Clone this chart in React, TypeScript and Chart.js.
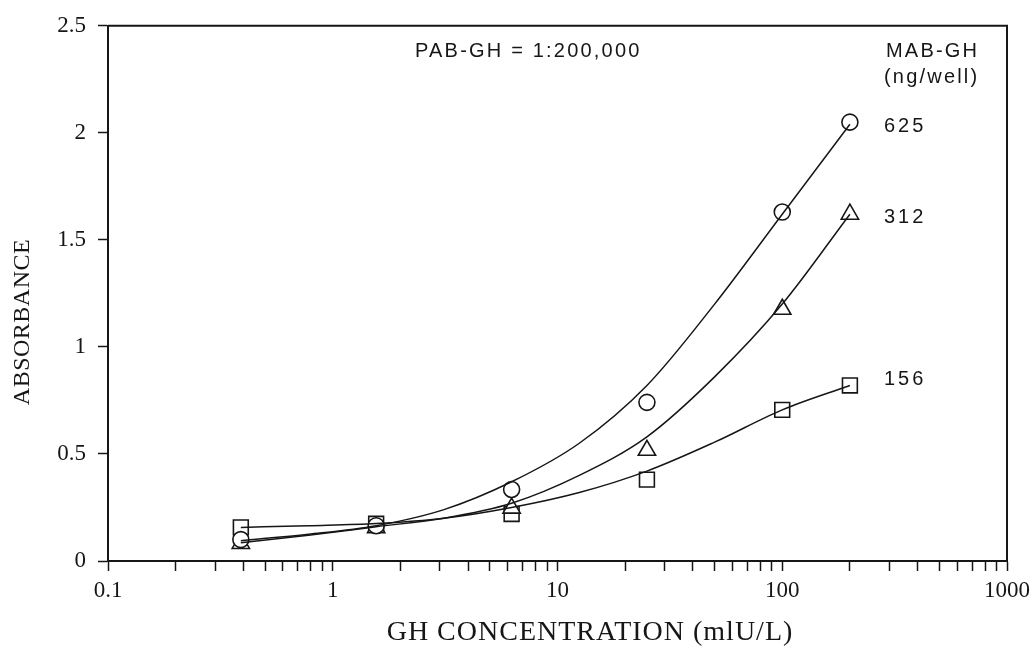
import React, { useEffect, useRef } from "react";
import { Chart, registerables } from "chart.js";

Chart.register(...registerables);

// GH concentration (mIU/L) of the measured standards
const concentrations = [0.39, 1.56, 6.25, 25, 100, 200];
// measured absorbances per MAB-GH amount (ng/well)
const abs625 = [0.1, 0.165, 0.334, 0.741, 1.63, 2.05];
const abs312 = [0.082, 0.155, 0.247, 0.517, 1.176, 1.62];
const abs156 = [0.157, 0.174, 0.22, 0.38, 0.706, 0.82];

// fitted curves at the two-fold dilution steps
const curveX = [0.39, 0.78, 1.56, 3.125, 6.25, 12.5, 25, 50, 100, 200];
const curve625 = [0.095, 0.125, 0.165, 0.24, 0.37, 0.55, 0.82, 1.2, 1.62, 2.04];
const curve312 = [0.085, 0.12, 0.16, 0.2, 0.27, 0.4, 0.58, 0.86, 1.2, 1.62];
const curve156 = [0.157, 0.165, 0.175, 0.2, 0.25, 0.32, 0.42, 0.555, 0.706, 0.82];

const seriesLabels = ["625", "312", "156"];
const xDecades = [0.1, 1, 10, 100, 1000];
const xMinorSteps = [2, 3, 4, 5, 6, 7, 8, 9];
const yTicks = [0, 0.5, 1, 1.5, 2, 2.5];

const annotationTitle = "PAB-GH = 1:200,000";
const legendTitle = "MAB-GH";
const legendUnit = "(ng/well)";
const xTitle = "GH CONCENTRATION (mlU/L)";
const yTitle = "ABSORBANCE";

const INK = "#161616";

function pts(xs: number[], ys: number[]) {
  return xs.map((x, i) => ({ x, y: ys[i] }));
}

export default function App() {
  const ref = useRef<HTMLCanvasElement | null>(null);

  useEffect(() => {
    document.body.style.margin = "0";
    const canvas = ref.current;
    if (!canvas) return;

    const xTickValues: number[] = [];
    xDecades.forEach((d, i) => {
      xTickValues.push(d);
      if (i < xDecades.length - 1) xMinorSteps.forEach((m) => xTickValues.push(d * m));
    });

    const framePlugin = {
      id: "frameAndText",
      afterDraw(chart: any) {
        const { ctx, chartArea } = chart;
        const xs = chart.scales.x;
        const ys = chart.scales.y;
        ctx.save();
        // frame top & right
        ctx.strokeStyle = INK;
        ctx.lineWidth = 2;
        ctx.beginPath();
        ctx.moveTo(chartArea.left, chartArea.top);
        ctx.lineTo(chartArea.right, chartArea.top);
        ctx.lineTo(chartArea.right, chartArea.bottom);
        ctx.stroke();

        ctx.fillStyle = INK;
        // sans annotations
        ctx.font = '20px "Liberation Sans", Arial, sans-serif';
        (ctx as any).letterSpacing = "2.2px";
        ctx.textAlign = "left";
        ctx.textBaseline = "middle";
        ctx.fillText(annotationTitle, 415, 51);
        ctx.fillText(legendTitle, 886, 51);
        ctx.fillText(legendUnit, 884, 77);
        const lastX = xs.getPixelForValue(concentrations[concentrations.length - 1]);
        const lastVals = [abs625, abs312, abs156].map((a) => a[a.length - 1]);
        const yOff = [4, 3, -6];
        (ctx as any).letterSpacing = "3px";
        seriesLabels.forEach((lab, i) => {
          ctx.fillText(lab, lastX + 34, ys.getPixelForValue(lastVals[i]) + yOff[i]);
        });

        // axis titles (serif)
        (ctx as any).letterSpacing = "1px";
        ctx.font = '28px "Liberation Serif", "Times New Roman", serif';
        ctx.textAlign = "center";
        ctx.textBaseline = "alphabetic";
        ctx.fillText(xTitle, 590, 640);

        (ctx as any).letterSpacing = "0.5px";
        ctx.font = '24px "Liberation Serif", "Times New Roman", serif';
        ctx.translate(23, 322);
        ctx.rotate(-Math.PI / 2);
        ctx.textBaseline = "middle";
        ctx.fillText(yTitle, 0, 0);
        ctx.restore();
      },
    };

    const curveStyle = {
      type: "line" as const,
      borderColor: INK,
      borderWidth: 1.5,
      pointRadius: 0,
      fill: false,
      cubicInterpolationMode: "monotone" as const,
    };
    const pointStyleBase = {
      type: "line" as const,
      showLine: false,
      borderColor: INK,
      backgroundColor: "#ffffff",
      pointBorderColor: INK,
      pointBackgroundColor: "#ffffff",
      pointBorderWidth: 1.6,
    };

    const chart = new Chart(canvas, {
      type: "line",
      data: {
        datasets: [
          { ...curveStyle, label: "fit 625", data: pts(curveX, curve625) },
          { ...curveStyle, label: "fit 312", data: pts(curveX, curve312) },
          { ...curveStyle, label: "fit 156", data: pts(curveX, curve156) },
          { ...pointStyleBase, label: seriesLabels[0], data: pts(concentrations, abs625), pointStyle: "circle", pointRadius: 8 },
          { ...pointStyleBase, label: seriesLabels[1], data: pts(concentrations, abs312), pointStyle: "triangle", pointRadius: 10 },
          { ...pointStyleBase, label: seriesLabels[2], data: pts(concentrations, abs156), pointStyle: "rect", pointRadius: 10.5 },
        ],
      },
      options: {
        animation: false,
        responsive: false,
        parsing: false as any,
        layout: { padding: { left: 0, top: 14, right: 16, bottom: 0 } },
        plugins: { legend: { display: false }, tooltip: { enabled: false } },
        scales: {
          x: {
            type: "logarithmic",
            min: 0.1,
            max: 1000,
            afterBuildTicks: (scale: any) => {
              scale.ticks = xTickValues.map((v) => ({ value: v }));
            },
            afterFit: (scale: any) => {
              scale.height = 86;
            },
            ticks: {
              autoSkip: false,
              maxRotation: 0,
              minRotation: 0,
              padding: 6,
              color: INK,
              font: { family: '"Liberation Serif", "Times New Roman", serif', size: 23 },
              callback: (v: any) => (xDecades.includes(Number(v)) ? String(v) : ""),
            },
            grid: { drawOnChartArea: false, drawTicks: true, tickLength: 10, tickColor: INK, tickWidth: 1.5 },
            border: { display: true, color: INK, width: 2 },
          },
          y: {
            type: "linear",
            min: 0,
            max: 2.5,
            afterBuildTicks: (scale: any) => {
              scale.ticks = yTicks.map((v) => ({ value: v }));
            },
            afterFit: (scale: any) => {
              scale.width = 108;
            },
            ticks: {
              padding: 12,
              color: INK,
              font: { family: '"Liberation Serif", "Times New Roman", serif', size: 23 },
              callback: (v: any) => String(v),
            },
            grid: { drawOnChartArea: false, drawTicks: true, tickLength: 10, tickColor: INK, tickWidth: 1.5 },
            border: { display: true, color: INK, width: 2 },
          },
        },
      },
      plugins: [framePlugin],
    });

    return () => chart.destroy();
  }, []);

  return (
    <div style={{ width: 1036, height: 647, background: "#ffffff" }}>
      <canvas ref={ref} width={1036} height={647} style={{ display: "block" }} />
    </div>
  );
}
